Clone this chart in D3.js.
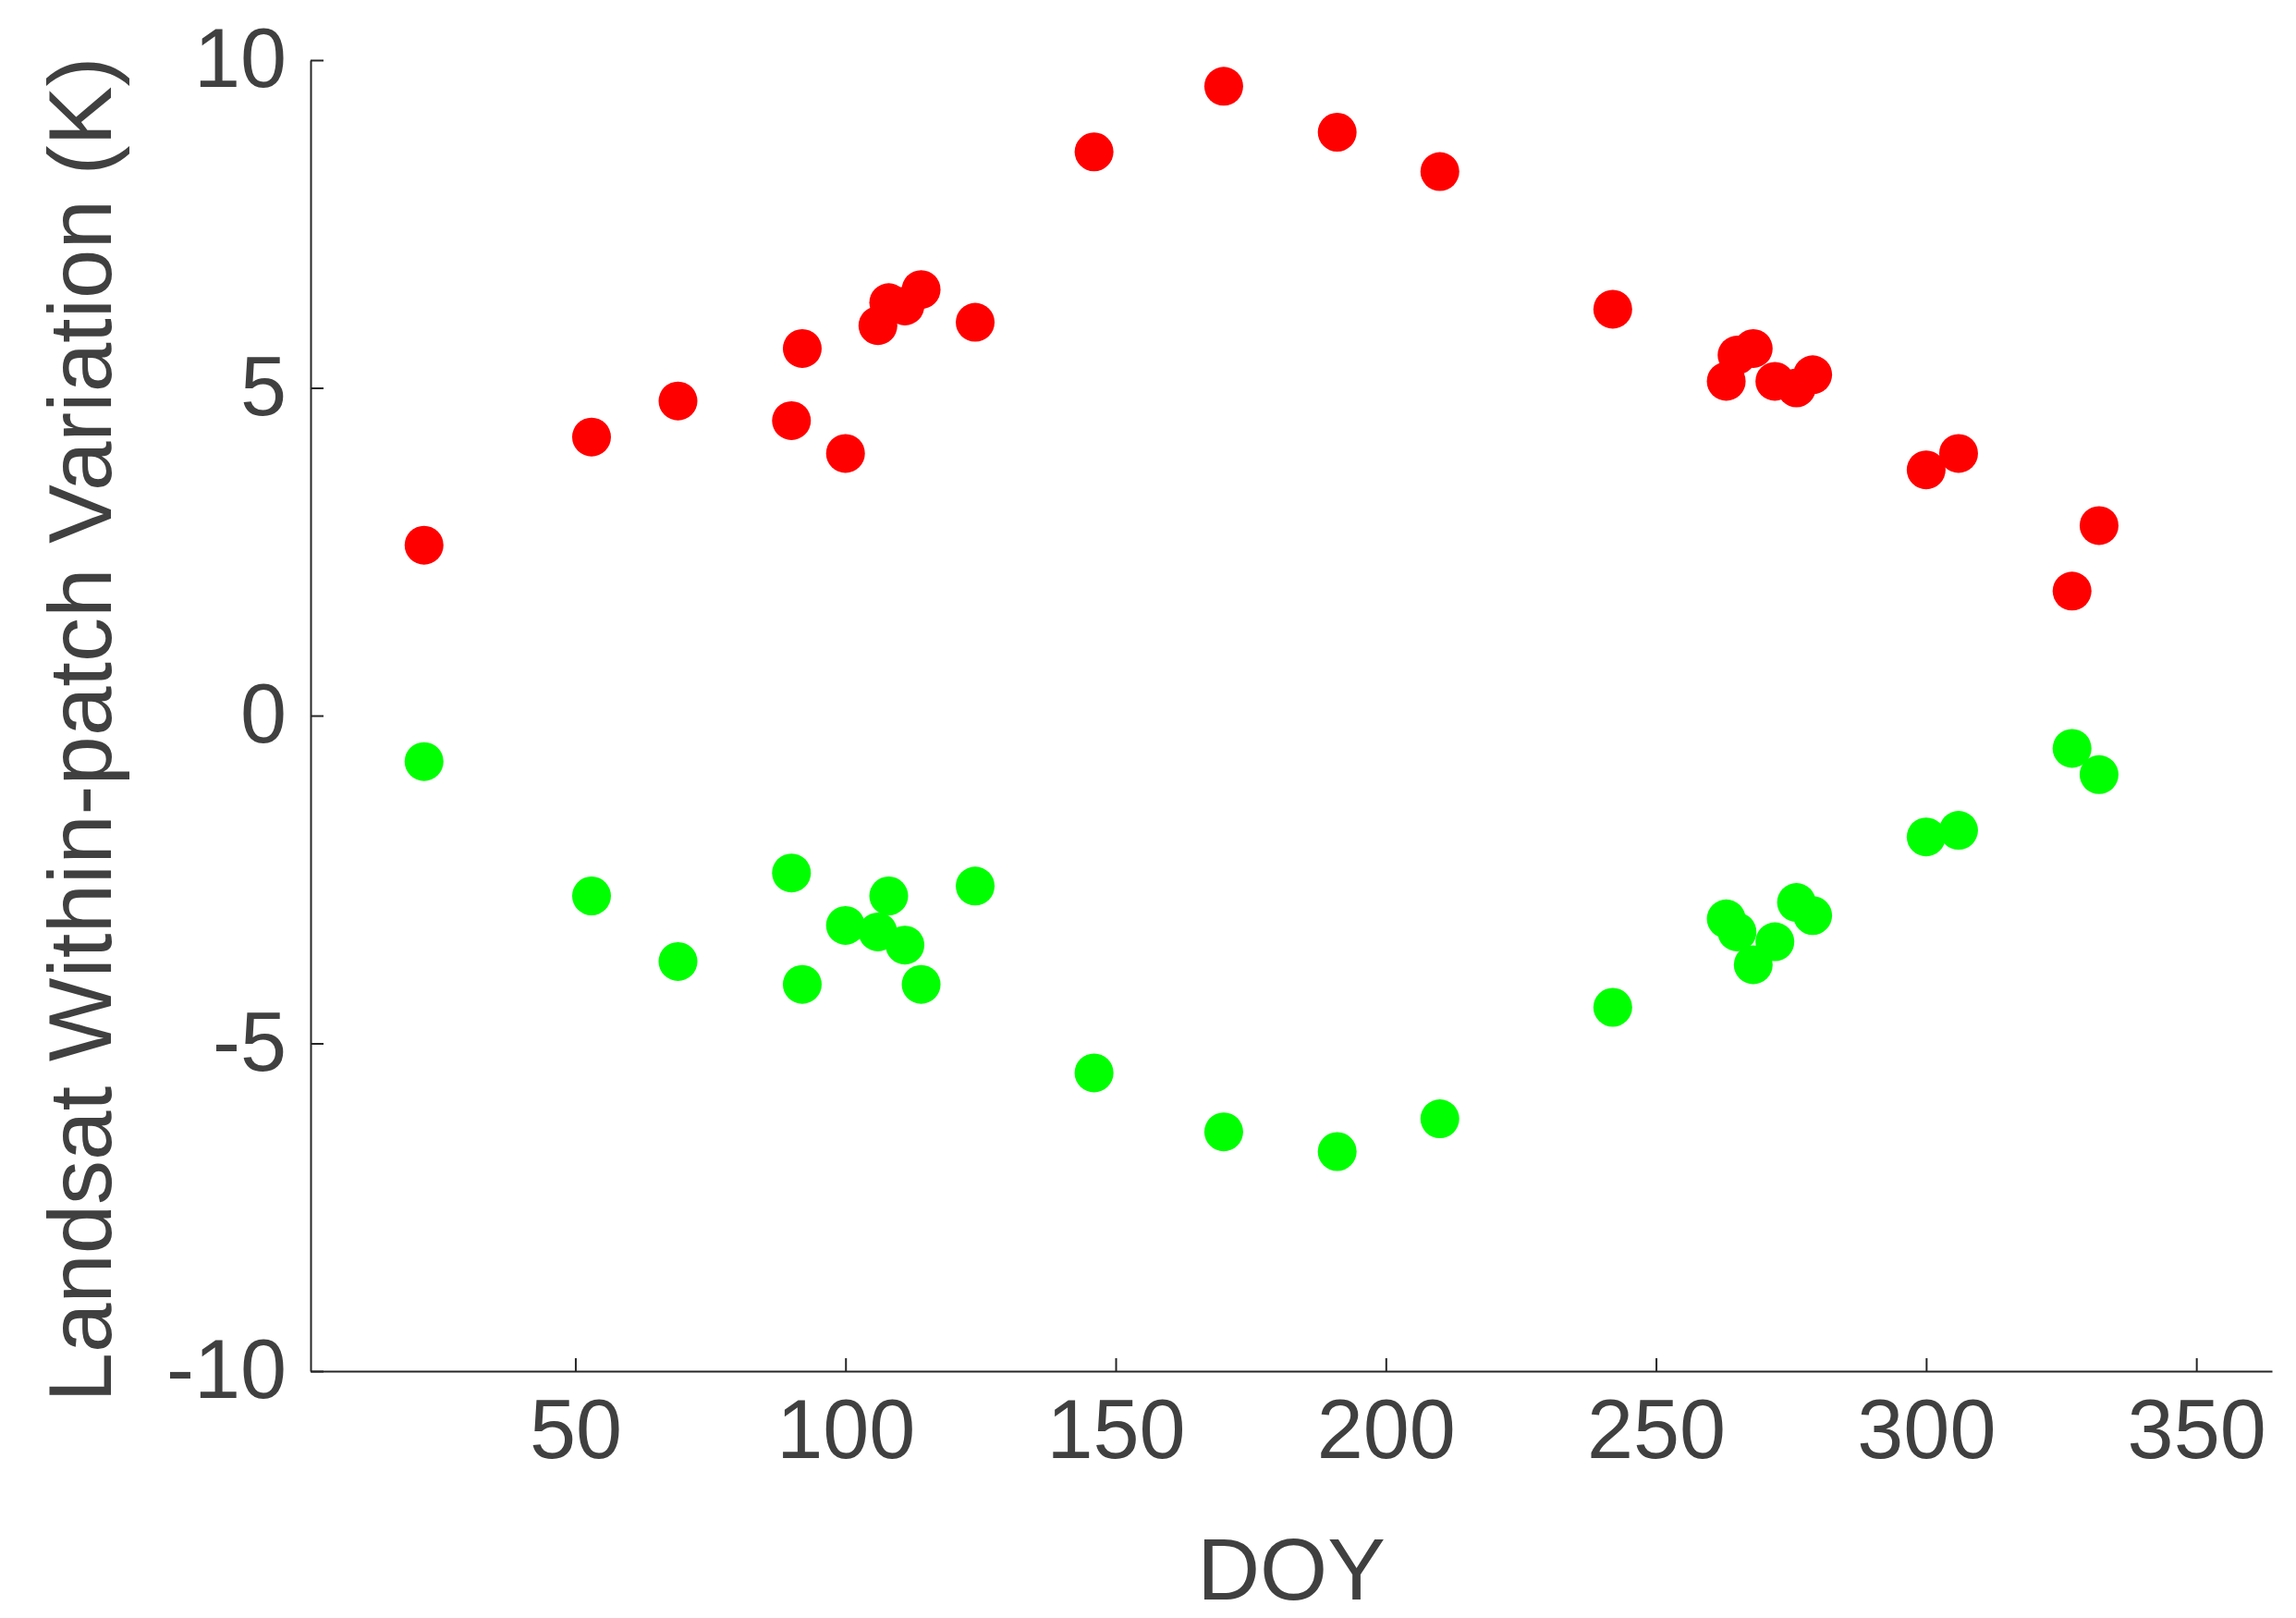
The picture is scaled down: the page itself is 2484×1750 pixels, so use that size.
<!DOCTYPE html><html><head><meta charset="utf-8">
<script src="https://cdn.jsdelivr.net/npm/d3@7"></script>
<style>body{margin:0;background:#fff}text{font-family:Arial,"Liberation Sans",sans-serif;fill:#404040}</style>
</head><body><svg id="c" width="2484" height="1750"></svg><script>
const doy=[22,53,69,90,92,100,106,108,111,114,124,146,170,191,210,242,263,265,268,272,276,279,300,306,327,332];
const redVals=[2.6,4.25,4.8,4.5,5.6,4.0,5.95,6.3,6.25,6.5,6.0,8.6,9.6,8.9,8.3,6.2,5.1,5.5,5.6,5.1,5.0,5.2,3.75,4.0,1.9,2.9];
const greenVals=[-0.7,-2.75,-3.75,-2.4,-4.1,-3.2,-3.3,-2.75,-3.5,-4.1,-2.6,-5.45,-6.35,-6.65,-6.15,-4.45,-3.1,-3.3,-3.8,-3.45,-2.85,-3.05,-1.85,-1.75,-0.5,-0.9];
const xTicks=[50,100,150,200,250,300,350];
const yTicks=[-10,-5,0,5,10];
const svg=d3.select("#c");
const L=336,R=2458,T=65,B=1483;
const x=d3.scaleLinear().domain([1,364]).range([L,R]);
const y=d3.scaleLinear().domain([-10,10]).range([B,T]);
const xa=svg.append("g").attr("transform",`translate(0,${B})`).call(d3.axisBottom(x).tickValues(xTicks).tickFormat(d=>String(d)).tickSizeInner(-14).tickSizeOuter(0).tickPadding(30));
const ya=svg.append("g").attr("transform",`translate(${L},0)`).call(d3.axisLeft(y).tickValues(yTicks).tickFormat(d=>String(d)).tickSizeInner(-14).tickSizeOuter(0).tickPadding(26));
[xa,ya].forEach(a=>{a.selectAll("path,line").attr("stroke","#262626").attr("stroke-width",2);a.selectAll("text").style("font-size","90px").style("fill","#404040");});
svg.append("text").attr("x",(L+R)/2).attr("y",1730).attr("text-anchor","middle").style("font-size","94px").text("DOY");
svg.append("text").attr("transform",`translate(120,${(T+B)/2+15}) rotate(-90)`).attr("text-anchor","middle").style("font-size","96px").text("Landsat Within-patch Variation (K)");
svg.append("g").selectAll("circle").data(doy).join("circle").attr("cx",d=>x(d)).attr("cy",(d,i)=>y(redVals[i])).attr("r",21).attr("fill","#ff0000");
svg.append("g").selectAll("circle").data(doy).join("circle").attr("cx",d=>x(d)).attr("cy",(d,i)=>y(greenVals[i])).attr("r",21).attr("fill","#00ff00");
</script></body></html>
